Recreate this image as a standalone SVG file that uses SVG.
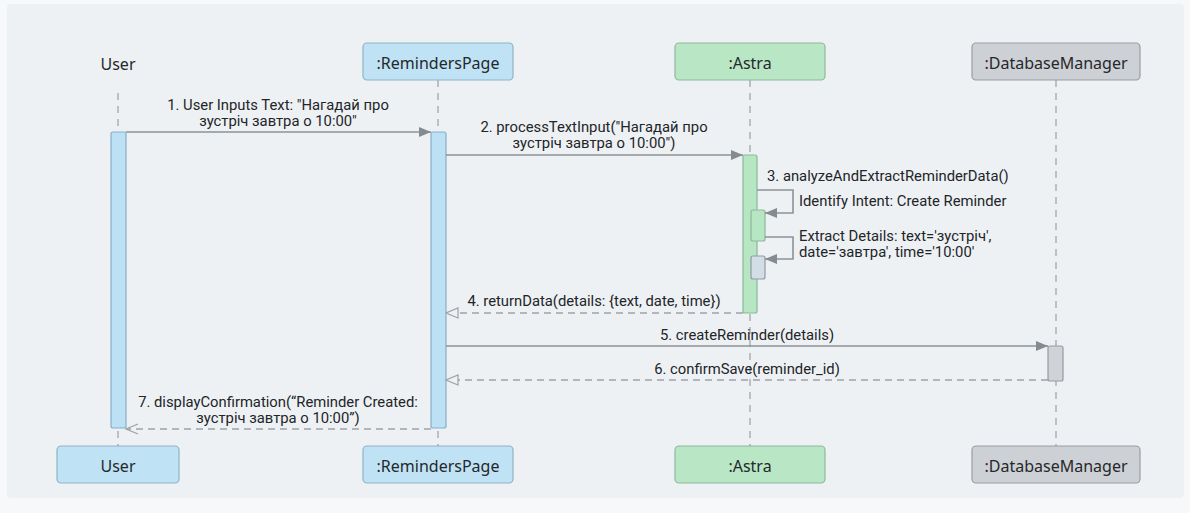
<svg xmlns="http://www.w3.org/2000/svg" width="1190" height="513" viewBox="0 0 1190 513">
  <defs>
    <style>
      .panel { fill: #eef1f4; }
      .box-blue { fill: #bfe3f5; stroke: #8fb2c6; stroke-width: 1.2; }
      .box-green { fill: #b9e7c5; stroke: #8eb89b; stroke-width: 1.2; }
      .box-gray { fill: #cdd0d4; stroke: #9a9ea3; stroke-width: 1.2; }
      .act-blue { fill: #bce1f4; stroke: #8aaec4; stroke-width: 1.2; }
      .act-green { fill: #b7e6c3; stroke: #8db79a; stroke-width: 1.2; }
      .act-gray { fill: #cfd2d6; stroke: #979ba0; stroke-width: 1.2; }
      .act-slate { fill: #d3dde6; stroke: #8f9ba6; stroke-width: 1.2; }
      .life { stroke: #a3a6aa; stroke-width: 1.3; stroke-dasharray: 7 6; fill: none; }
      .call { stroke: #8d9297; stroke-width: 1.6; fill: none; }
      .ret { stroke: #9ea2a6; stroke-width: 1.4; stroke-dasharray: 7 5; fill: none; }
      .name { font-family: "Noto Sans", "DejaVu Sans", sans-serif; font-size: 16px; fill: #25282b; text-anchor: middle; }
      .msg { font-family: Roboto, "Liberation Sans", sans-serif; font-size: 14.8px; fill: #222528; text-anchor: middle; }
      .note { font-family: Roboto, "Liberation Sans", sans-serif; font-size: 14.8px; fill: #222528; }
    </style>
    <marker id="solidHead" viewBox="0 0 12 10" refX="12" refY="5" markerWidth="12" markerHeight="10" markerUnits="userSpaceOnUse" orient="auto">
      <path d="M0,0 L12,5 L0,10 Z" fill="#858a90"/>
    </marker>
    <marker id="hollowHead" viewBox="0 0 14 12" refX="13" refY="6" markerWidth="14" markerHeight="12" markerUnits="userSpaceOnUse" orient="auto">
      <path d="M1,1 L13,6 L1,11 Z" fill="#eef1f4" stroke="#9ea2a6" stroke-width="1.2"/>
    </marker>
    <marker id="openHead" viewBox="0 0 14 12" refX="13" refY="6" markerWidth="14" markerHeight="12" markerUnits="userSpaceOnUse" orient="auto">
      <path d="M1,1 L13,6 L1,11" fill="none" stroke="#9ea2a6" stroke-width="1.3"/>
    </marker>
  </defs>

  <!-- canvas -->
  <rect x="0" y="0" width="1190" height="513" fill="#f7f8f9"/>
  <rect class="panel" x="7" y="4" width="1177" height="494" rx="4"/>

  <!-- lifelines -->
  <g id="lifelines">
    <line class="life" x1="118" y1="93" x2="118" y2="446"/>
    <line class="life" x1="438" y1="80" x2="438" y2="446"/>
    <line class="life" x1="750" y1="80" x2="750" y2="446"/>
    <line class="life" x1="1056" y1="80" x2="1056" y2="446"/>
  </g>

  <!-- participants -->
  <g id="user">
    <text class="name" x="118" y="70">User</text>
    <rect class="act-blue" x="111" y="132" width="15" height="296" rx="2"/>
    <rect class="box-blue" x="57" y="446" width="122" height="37" rx="4"/>
    <text class="name" x="118" y="472">User</text>
  </g>

  <g id="reminders-page">
    <rect class="box-blue" x="363" y="43" width="150" height="37" rx="4"/>
    <text class="name" x="438" y="68.5">:RemindersPage</text>
    <rect class="act-blue" x="431" y="132" width="15" height="296" rx="2"/>
    <rect class="box-blue" x="363" y="446" width="150" height="37" rx="4"/>
    <text class="name" x="438" y="472">:RemindersPage</text>
  </g>

  <g id="astra">
    <rect class="box-green" x="675" y="43" width="150" height="37" rx="4"/>
    <text class="name" x="750" y="68.5">:Astra</text>
    <rect class="act-green" x="743" y="155" width="14" height="158" rx="2"/>
    <rect class="act-green" x="751" y="210" width="14" height="31" rx="2"/>
    <rect class="act-slate" x="751" y="256" width="14" height="23" rx="2"/>
    <rect class="box-green" x="675" y="446" width="150" height="37" rx="4"/>
    <text class="name" x="750" y="472">:Astra</text>
  </g>

  <g id="database-manager">
    <rect class="box-gray" x="972" y="43" width="168" height="37" rx="4"/>
    <text class="name" x="1056" y="68.5">:DatabaseManager</text>
    <rect class="act-gray" x="1048" y="346" width="15" height="35" rx="2"/>
    <rect class="box-gray" x="972" y="446" width="168" height="37" rx="4"/>
    <text class="name" x="1056" y="472">:DatabaseManager</text>
  </g>

  <!-- messages -->
  <g id="connectors">
    <line class="call" x1="126" y1="132" x2="431" y2="132" marker-end="url(#solidHead)"/>
    <line class="call" x1="446" y1="155" x2="743" y2="155" marker-end="url(#solidHead)"/>
    <path class="call" d="M757,190 H793 V213 H765" marker-end="url(#solidHead)"/>
    <path class="call" d="M765,237 H793 V259 H765" marker-end="url(#solidHead)"/>
    <line class="ret" x1="743" y1="313" x2="446" y2="313" marker-end="url(#hollowHead)"/>
    <line class="call" x1="446" y1="346" x2="1048" y2="346" marker-end="url(#solidHead)"/>
    <line class="ret" x1="1048" y1="380" x2="446" y2="380" marker-end="url(#hollowHead)"/>
    <line class="ret" x1="431" y1="429" x2="126" y2="429" marker-end="url(#openHead)"/>
  </g>

  <!-- message labels -->
  <g id="labels">
    <text class="msg" x="278" y="110">1. User Inputs Text: "Нагадай про</text>
    <text class="msg" x="278" y="126">зустріч завтра о 10:00"</text>
    <text class="msg" x="594" y="131.5">2. processTextInput("Нагадай про</text>
    <text class="msg" x="594" y="148">зустріч завтра о 10:00")</text>
    <text class="note" x="767" y="181">3. analyzeAndExtractReminderData()</text>
    <text class="note" x="799" y="206">Identify Intent: Create Reminder</text>
    <text class="note" x="799" y="241">Extract Details: text='зустріч',</text>
    <text class="note" x="799" y="257">date='завтра', time='10:00'</text>
    <text class="msg" x="594" y="306">4. returnData(details: {text, date, time})</text>
    <text class="msg" x="747" y="340">5. createReminder(details)</text>
    <text class="msg" x="747" y="374">6. confirmSave(reminder_id)</text>
    <text class="msg" x="278" y="407">7. displayConfirmation(“Reminder Created:</text>
    <text class="msg" x="278" y="423">зустріч завтра о 10:00”)</text>
  </g>
</svg>
